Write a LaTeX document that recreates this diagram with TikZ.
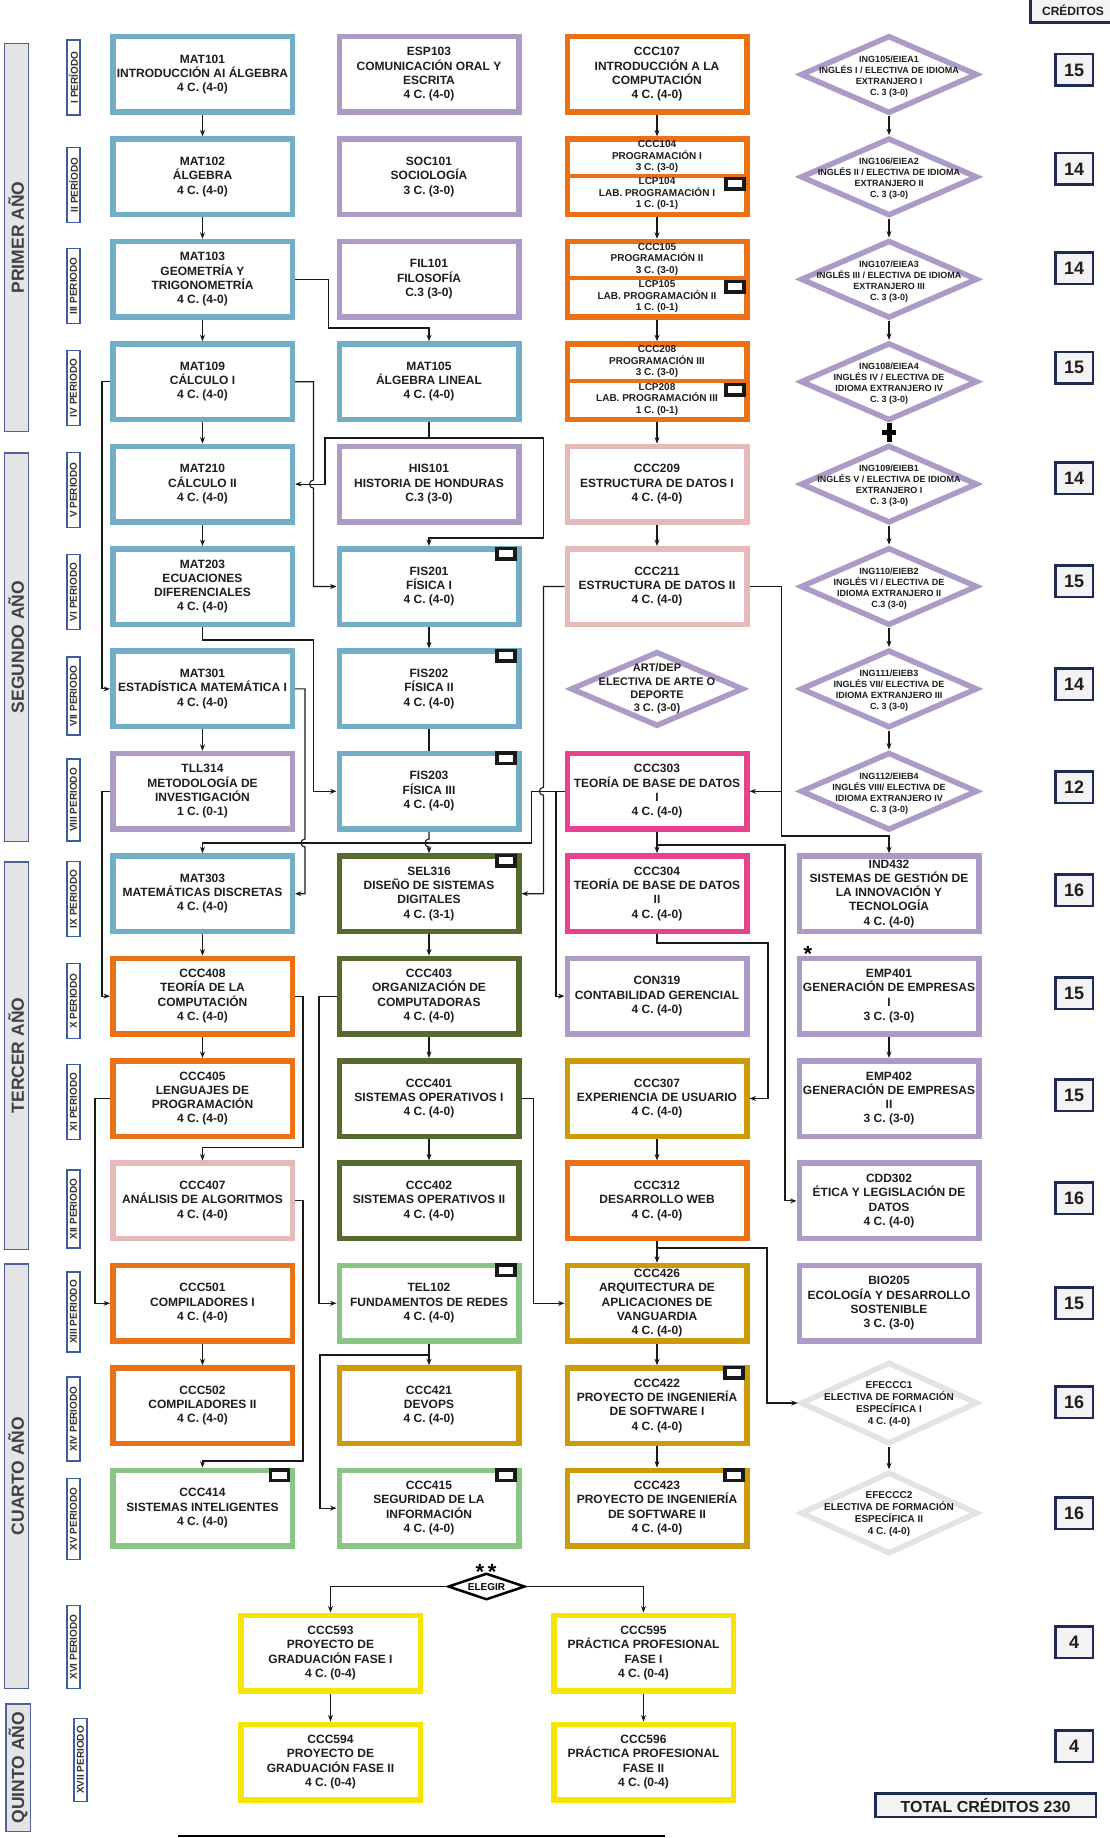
\documentclass[tikz,border=0pt]{standalone}
\usepackage{fontspec}
\setmainfont{Liberation Sans}
\usetikzlibrary{arrows.meta, shapes.geometric}

\definecolor{cblue}{HTML}{72AEC8}
\definecolor{cpurple}{HTML}{AB9BC6}
\definecolor{corange}{HTML}{EC7116}
\definecolor{cpink}{HTML}{E6B9B8}
\definecolor{cmagenta}{HTML}{E8418E}
\definecolor{colive}{HTML}{566A2E}
\definecolor{cgreen}{HTML}{8AC583}
\definecolor{cgold}{HTML}{CD9B05}
\definecolor{cyellow}{HTML}{F5E500}
\definecolor{clight}{HTML}{E3E3E3}
\definecolor{cnavy}{HTML}{1F2B55}
\definecolor{cperiod}{HTML}{3B5BA6}
\definecolor{cyearline}{HTML}{50609A}
\definecolor{cyearfill}{HTML}{E4E4E4}
\definecolor{cpanel}{HTML}{F3F3F3}
\definecolor{ctext}{HTML}{1E1E1E}

\newcommand\crsfont{\fontsize{12}{14.3}\selectfont\bfseries}
\newcommand\splitfont{\fontsize{10}{11.5}\selectfont\bfseries}
\newcommand\ingfont{\fontsize{9}{11}\selectfont\bfseries}
\newcommand\effont{\fontsize{10}{12}\selectfont\bfseries}
\newcommand\artfont{\fontsize{11}{13.3}\selectfont\bfseries}
\newcommand\credfont{\fontsize{18}{20}\selectfont\bfseries}
\newcommand\hdrfont{\fontsize{12}{14}\selectfont\bfseries}
\newcommand\totfont{\fontsize{16}{18}\selectfont\bfseries}
\newcommand\yearfont{\fontsize{17.5}{20}\selectfont\bfseries}
\newcommand\perfont{\fontsize{10}{12}\selectfont\bfseries}
\newcommand\starfont{\fontsize{22}{22}\selectfont\bfseries}

\tikzset{
  course/.style={draw, line width=5.5pt, fill=white, minimum width=179.5pt, minimum height=75.5pt, inner sep=1pt, align=center, font=\crsfont, text=ctext},
  matbox/.style={course, draw=cblue},
  genbox/.style={course, draw=cpurple},
  progbox/.style={course, draw=corange},
  datbox/.style={course, draw=cpink},
  dbbox/.style={course, draw=cmagenta},
  hwbox/.style={course, draw=colive},
  netbox/.style={course, draw=cgreen},
  swbox/.style={course, draw=cgold},
  gradbox/.style={course, draw=cyellow},
  dia/.style={diamond, draw, line width=5.5pt, fill=white, inner sep=0pt, minimum width=177pt, minimum height=78pt},
  ingdia/.style={dia, draw=cpurple},
  efdia/.style={dia, draw=clight, minimum height=82pt},
  diatext/.style={align=center, font=\ingfont, text=ctext, inner sep=0pt},
  splittext/.style={align=center, font=\splitfont, text=ctext, inner sep=0pt},
  lab/.style={draw=black!90, line width=3.5pt, fill=white, minimum width=18pt, minimum height=10.5pt, inner sep=0pt},
  period/.style={draw=cperiod, line width=1.8pt, fill=white, rotate=90, minimum height=12.5pt, minimum width=75pt, inner sep=0pt, font=\perfont, text=black!80},
  year/.style={draw=cyearline, line width=1.5pt, fill=cyearfill, rotate=90, minimum height=24pt, inner sep=0pt, font=\yearfont, text=black!75},
  credit/.style={draw=cnavy, line width=2.5pt, fill=cpanel, minimum width=37.5pt, minimum height=31.5pt, inner sep=0pt, font=\credfont, text=ctext},
  link/.style={line width=1.1pt, black!90},
  arr/.style={link, -{Stealth[length=6.5pt, width=5pt]}},
}

\begin{document}
\begin{tikzpicture}[x=1pt, y=-1pt]
\useasboundingbox (0,0) rectangle (1110,1838);
\fill[white] (0,0) rectangle (1110,1838);

\node[year, minimum width=387.5pt] (year1) at (16.25,237.5) {PRIMER AÑO};
\node[year, minimum width=388.5pt] (year2) at (16.25,647) {SEGUNDO AÑO};
\node[year, minimum width=387.5pt] (year3) at (16.25,1055.5) {TERCER AÑO};
\node[year, minimum width=424.5pt] (year4) at (16.25,1476) {CUARTO AÑO};
\node[year, minimum width=127.5pt, minimum height=24.5pt] (year5) at (18,1767.5) {QUINTO AÑO};

\node[period] (p1) at (73.5,77.5) {I PERÍODO};
\node[period] (p2) at (73.5,185) {II PERÍODO};
\node[period] (p3) at (73.5,286) {III PERIODO};
\node[period] (p4) at (73.5,388) {IV PERIODO};
\node[period] (p5) at (73.5,490) {V PERIODO};
\node[period] (p6) at (73.5,592) {VI PERIODO};
\node[period, minimum width=78pt] (p7) at (73.5,696) {VII PERIODO};
\node[period, minimum width=82pt] (p8) at (73.5,800) {VIII PERIODO};
\node[period] (p9) at (73.5,899) {IX PERIODO};
\node[period] (p10) at (73.5,1001) {X PERIODO};
\node[period] (p11) at (73.5,1102) {XI PERIODO};
\node[period, minimum width=78pt] (p12) at (73.5,1209) {XII PERIODO};
\node[period, minimum width=80pt] (p13) at (73.5,1312) {XIII PERIODO};
\node[period, minimum width=84pt] (p14) at (73.5,1419) {XIV PERIODO};
\node[period, minimum width=81pt] (p15) at (73.5,1519) {XV PERIODO};
\node[period, minimum width=83pt] (p16) at (73.5,1647) {XVI PERIODO};
\node[period, minimum width=83pt] (p17) at (80.5,1760) {XVII PERIODO};

\node[matbox] (MAT101) at (202.5,74.5) {MAT101\\INTRODUCCIÓN AI ÁLGEBRA\\4 C. (4-0)};
\node[genbox] (ESP103) at (429,74.5) {ESP103\\COMUNICACIÓN ORAL Y\\ESCRITA\\4 C. (4-0)};
\node[progbox] (CCC107) at (657,74.5) {CCC107\\INTRODUCCIÓN A LA\\COMPUTACIÓN\\4 C. (4-0)};
\node[ingdia] (ING105) at (889,74.5) {};
\node[diatext] (ING105txt) at (889,76.5) {ING105/EIEA1\\INGLÉS I / ELECTIVA DE IDIOMA\\EXTRANJERO I\\C. 3 (3-0)};

\node[matbox] (MAT102) at (202.5,176.9) {MAT102\\ÁLGEBRA\\4 C. (4-0)};
\node[genbox] (SOC101) at (429,176.9) {SOC101\\SOCIOLOGÍA\\3 C. (3-0)};
\node[progbox] (CCC104) at (657,176.9) {};
\draw[corange, line width=4pt] ([yshift=1pt]CCC104.west) -- ([yshift=1pt]CCC104.east);
\node[splittext] (CCC104txt) at (657,157) {CCC104\\PROGRAMACIÓN I\\3 C. (3-0)};
\node[splittext] (LCP104txt) at (657,194) {LCP104\\LAB. PROGRAMACIÓN I\\1 C. (0-1)};
\node[lab] (LCP104lab) at (735,184) {};
\node[ingdia] (ING106) at (889,176.9) {};
\node[diatext] (ING106txt) at (889,178.9) {ING106/EIEA2\\INGLÉS II / ELECTIVA DE IDIOMA\\EXTRANJERO II\\C. 3 (3-0)};

\node[matbox] (MAT103) at (202.5,279.3) {MAT103\\GEOMETRÍA Y\\TRIGONOMETRÍA\\4 C. (4-0)};
\node[genbox] (FIL101) at (429,279.3) {FIL101\\FILOSOFÍA\\C.3 (3-0)};
\node[progbox] (CCC105) at (657,279.3) {};
\draw[corange, line width=4pt] ([yshift=1pt]CCC105.west) -- ([yshift=1pt]CCC105.east);
\node[splittext] (CCC105txt) at (657,259.5) {CCC105\\PROGRAMACIÓN II\\3 C. (3-0)};
\node[splittext] (LCP105txt) at (657,297) {LCP105\\LAB. PROGRAMACIÓN II\\1 C. (0-1)};
\node[lab] (LCP105lab) at (735,286.5) {};
\node[ingdia] (ING107) at (889,279.3) {};
\node[diatext] (ING107txt) at (889,281.3) {ING107/EIEA3\\INGLÉS III / ELECTIVA DE IDIOMA\\EXTRANJERO III\\C. 3 (3-0)};

\node[matbox] (MAT109) at (202.5,381.7) {MAT109\\CÁLCULO I\\4 C. (4-0)};
\node[matbox] (MAT105) at (429,381.7) {MAT105\\ÁLGEBRA LINEAL\\4 C. (4-0)};
\node[progbox] (CCC208) at (657,381.7) {};
\draw[corange, line width=4pt] ([yshift=1pt]CCC208.west) -- ([yshift=1pt]CCC208.east);
\node[splittext] (CCC208txt) at (657,362) {CCC208\\PROGRAMACIÓN III\\3 C. (3-0)};
\node[splittext] (LCP208txt) at (657,399.5) {LCP208\\LAB. PROGRAMACIÓN III\\1 C. (0-1)};
\node[lab] (LCP208lab) at (735,389.5) {};
\node[ingdia] (ING108) at (889,381.7) {};
\node[diatext] (ING108txt) at (889,383.7) {ING108/EIEA4\\INGLÉS IV / ELECTIVA DE\\IDIOMA EXTRANJERO IV\\C. 3 (3-0)};

\node[matbox] (MAT210) at (202.5,484.1) {MAT210\\CÁLCULO II\\4 C. (4-0)};
\node[genbox] (HIS101) at (429,484.1) {HIS101\\HISTORIA DE HONDURAS\\C.3 (3-0)};
\node[datbox] (CCC209) at (657,484.1) {CCC209\\ESTRUCTURA DE DATOS I\\4 C. (4-0)};
\node[ingdia] (ING109) at (889,484.1) {};
\node[diatext] (ING109txt) at (889,486.1) {ING109/EIEB1\\INGLÉS V / ELECTIVA DE IDIOMA\\EXTRANJERO I\\C. 3 (3-0)};

\node[matbox] (MAT203) at (202.5,586.5) {MAT203\\ECUACIONES\\DIFERENCIALES\\4 C. (4-0)};
\node[matbox] (FIS201) at (429,586.5) {FIS201\\FÍSICA I\\4 C. (4-0)};
\node[lab] (FIS201lab) at ([xshift=-15.5pt,yshift=-7.5pt]FIS201.north east) {};
\node[datbox] (CCC211) at (657,586.5) {CCC211\\ESTRUCTURA DE DATOS II\\4 C. (4-0)};
\node[ingdia] (ING110) at (889,586.5) {};
\node[diatext] (ING110txt) at (889,588.5) {ING110/EIEB2\\INGLÉS VI / ELECTIVA DE\\IDIOMA EXTRANJERO II\\C.3 (3-0)};

\node[matbox] (MAT301) at (202.5,688.9) {MAT301\\ESTADÍSTICA MATEMÁTICA I\\4 C. (4-0)};
\node[matbox] (FIS202) at (429,688.9) {FIS202\\FÍSICA II\\4 C. (4-0)};
\node[lab] (FIS202lab) at ([xshift=-15.5pt,yshift=-7.5pt]FIS202.north east) {};
\node[dia, draw=cpurple, minimum width=173pt, minimum height=75pt] (ARTDEP) at (657,688.9) {};
\node[diatext, font=\artfont] (ARTDEPtxt) at (657,688.9) {ART/DEP\\ELECTIVA DE ARTE O\\DEPORTE\\3 C. (3-0)};
\node[ingdia] (ING111) at (889,688.9) {};
\node[diatext] (ING111txt) at (889,690.9) {ING111/EIEB3\\INGLÉS VII/ ELECTIVA DE\\IDIOMA EXTRANJERO III\\C. 3 (3-0)};

\node[genbox] (TLL314) at (202.5,791.3) {TLL314\\METODOLOGÍA DE\\INVESTIGACIÓN\\1 C. (0-1)};
\node[matbox] (FIS203) at (429,791.3) {FIS203\\FÍSICA III\\4 C. (4-0)};
\node[lab] (FIS203lab) at ([xshift=-15.5pt,yshift=-7.5pt]FIS203.north east) {};
\node[dbbox] (CCC303) at (657,791.3) {CCC303\\TEORÍA DE BASE DE DATOS\\I\\4 C. (4-0)};
\node[ingdia] (ING112) at (889,791.3) {};
\node[diatext] (ING112txt) at (889,793.3) {ING112/EIEB4\\INGLÉS VIII/ ELECTIVA DE\\IDIOMA EXTRANJERO IV\\C. 3 (3-0)};

\node[matbox] (MAT303) at (202.5,893.7) {MAT303\\MATEMÁTICAS DISCRETAS\\4 C. (4-0)};
\node[hwbox] (SEL316) at (429,893.7) {SEL316\\DISEÑO DE SISTEMAS\\DIGITALES\\4 C. (3-1)};
\node[lab] (SEL316lab) at ([xshift=-15.5pt,yshift=-7.5pt]SEL316.north east) {};
\node[dbbox] (CCC304) at (657,893.7) {CCC304\\TEORÍA DE BASE DE DATOS\\II\\4 C. (4-0)};
\node[genbox] (IND432) at (889,893.7) {IND432\\SISTEMAS DE GESTIÓN DE\\LA INNOVACIÓN Y\\TECNOLOGÍA\\4 C. (4-0)};

\node[progbox] (CCC408) at (202.5,996.1) {CCC408\\TEORÍA DE LA\\COMPUTACIÓN\\4 C. (4-0)};
\node[hwbox] (CCC403) at (429,996.1) {CCC403\\ORGANIZACIÓN DE\\COMPUTADORAS\\4 C. (4-0)};
\node[genbox] (CON319) at (657,996.1) {CON319\\CONTABILIDAD GERENCIAL\\4 C. (4-0)};
\node[genbox] (EMP401) at (889,996.1) {EMP401\\GENERACIÓN DE EMPRESAS\\I\\3 C. (3-0)};
\node[font=\starfont, anchor=base, inner sep=0pt] (star1) at (808,961.5) {*};

\node[progbox] (CCC405) at (202.5,1098.5) {CCC405\\LENGUAJES DE\\PROGRAMACIÓN\\4 C. (4-0)};
\node[hwbox] (CCC401) at (429,1098.5) {CCC401\\SISTEMAS OPERATIVOS I\\4 C. (4-0)};
\node[swbox] (CCC307) at (657,1098.5) {CCC307\\EXPERIENCIA DE USUARIO\\4 C. (4-0)};
\node[genbox] (EMP402) at (889,1098.5) {EMP402\\GENERACIÓN DE EMPRESAS\\II\\3 C. (3-0)};

\node[datbox] (CCC407) at (202.5,1200.9) {CCC407\\ANÁLISIS DE ALGORITMOS\\4 C. (4-0)};
\node[hwbox] (CCC402) at (429,1200.9) {CCC402\\SISTEMAS OPERATIVOS II\\4 C. (4-0)};
\node[progbox] (CCC312) at (657,1200.9) {CCC312\\DESARROLLO WEB\\4 C. (4-0)};
\node[genbox] (CDD302) at (889,1200.9) {CDD302\\ÉTICA Y LEGISLACIÓN DE\\DATOS\\4 C. (4-0)};

\node[progbox] (CCC501) at (202.5,1303.3) {CCC501\\COMPILADORES I\\4 C. (4-0)};
\node[netbox] (TEL102) at (429,1303.3) {TEL102\\FUNDAMENTOS DE REDES\\4 C. (4-0)};
\node[lab] (TEL102lab) at ([xshift=-15.5pt,yshift=-7.5pt]TEL102.north east) {};
\node[swbox] (CCC426) at (657,1303.3) {CCC426\\ARQUITECTURA DE\\APLICACIONES DE\\VANGUARDIA\\4 C. (4-0)};
\node[genbox] (BIO205) at (889,1303.3) {BIO205\\ECOLOGÍA Y DESARROLLO\\SOSTENIBLE\\3 C. (3-0)};

\node[progbox] (CCC502) at (202.5,1405.7) {CCC502\\COMPILADORES II\\4 C. (4-0)};
\node[swbox] (CCC421) at (429,1405.7) {CCC421\\DEVOPS\\4 C. (4-0)};
\node[swbox] (CCC422) at (657,1405.7) {CCC422\\PROYECTO DE INGENIERÍA\\DE SOFTWARE I\\4 C. (4-0)};
\node[lab] (CCC422lab) at ([xshift=-15.5pt,yshift=-7.5pt]CCC422.north east) {};
\node[efdia] (EFECCC1) at (889,1403) {};
\node[diatext, font=\effont] (EFECCC1txt) at (889,1404) {EFECCC1\\ELECTIVA DE FORMACIÓN\\ESPECÍFICA I\\4 C. (4-0)};

\node[netbox] (CCC414) at (202.5,1508.1) {CCC414\\SISTEMAS INTELIGENTES\\4 C. (4-0)};
\node[lab] (CCC414lab) at ([xshift=-15.5pt,yshift=-7.5pt]CCC414.north east) {};
\node[netbox] (CCC415) at (429,1508.1) {CCC415\\SEGURIDAD DE LA\\INFORMACIÓN\\4 C. (4-0)};
\node[lab] (CCC415lab) at ([xshift=-15.5pt,yshift=-7.5pt]CCC415.north east) {};
\node[swbox] (CCC423) at (657,1508.1) {CCC423\\PROYECTO DE INGENIERÍA\\DE SOFTWARE II\\4 C. (4-0)};
\node[lab] (CCC423lab) at ([xshift=-15.5pt,yshift=-7.5pt]CCC423.north east) {};
\node[efdia] (EFECCC2) at (889,1513) {};
\node[diatext, font=\effont] (EFECCC2txt) at (889,1514) {EFECCC2\\ELECTIVA DE FORMACIÓN\\ESPECÍFICA II\\4 C. (4-0)};

\node[diamond, draw=black, line width=2.5pt, fill=white, inner sep=0pt, minimum width=77pt, minimum height=26.5pt] (ELEGIR) at (486.5,1586.5) {};
\node[font=\effont, inner sep=0pt] (ELEGIRtxt) at (486.5,1587) {ELEGIR};
\node[font=\starfont, anchor=base, inner sep=0pt] (star2) at (486,1579.5) {*\,*};

\node[gradbox] (CCC593) at (330.5,1653) {CCC593\\PROYECTO DE\\GRADUACIÓN FASE I\\4 C. (0-4)};
\node[gradbox] (CCC595) at (643.5,1653) {CCC595\\PRÁCTICA PROFESIONAL\\FASE I\\4 C. (0-4)};
\node[gradbox] (CCC594) at (330.5,1762) {CCC594\\PROYECTO DE\\GRADUACIÓN FASE II\\4 C. (0-4)};
\node[gradbox] (CCC596) at (643.5,1762) {CCC596\\PRÁCTICA PROFESIONAL\\FASE II\\4 C. (0-4)};

\node[credit, font=\hdrfont, minimum width=85.5pt, minimum height=24.5pt] (credhdr) at (1073,10.5) {CRÉDITOS};
\node[credit] (cr1) at (1074,70) {15};
\node[credit] (cr2) at (1074,169) {14};
\node[credit] (cr3) at (1074,268) {14};
\node[credit] (cr4) at (1074,367.5) {15};
\node[credit] (cr5) at (1074,478) {14};
\node[credit] (cr6) at (1074,581) {15};
\node[credit] (cr7) at (1074,684) {14};
\node[credit] (cr8) at (1074,787) {12};
\node[credit] (cr9) at (1074,890) {16};
\node[credit] (cr10) at (1074,993) {15};
\node[credit] (cr11) at (1074,1095) {15};
\node[credit] (cr12) at (1074,1198) {16};
\node[credit] (cr13) at (1074,1303) {15};
\node[credit] (cr14) at (1074,1402) {16};
\node[credit] (cr15) at (1074,1513) {16};
\node[credit] (cr16) at (1074,1642) {4};
\node[credit] (cr17) at (1074,1746) {4};
\node[credit, font=\totfont, minimum width=220.5pt, minimum height=23.5pt] (total) at (985.5,1805) {TOTAL CRÉDITOS 230};

\draw[arr] (MAT101) -- (MAT102);
\draw[arr] (MAT102) -- (MAT103);
\draw[arr] (MAT103) -- (MAT109);
\draw[arr] (MAT109) -- (MAT210);
\draw[arr] (MAT210) -- (MAT203);
\draw[arr] (MAT301) -- (TLL314);
\draw[arr] (MAT303) -- (CCC408);
\draw[arr] (CCC408) -- (CCC405);
\draw[arr] (CCC501) -- (CCC502);
\draw[arr] (FIS201) -- (FIS202);
\draw[link] (FIS202) -- (FIS203);
\draw[arr] (SEL316) -- (CCC403);
\draw[arr] (CCC403) -- (CCC401);
\draw[arr] (CCC401) -- (CCC402);
\draw[arr] (TEL102) -- (CCC421);
\draw[arr] (CCC107) -- (CCC104);
\draw[arr] (CCC104) -- (CCC105);
\draw[arr] (CCC105) -- (CCC208);
\draw[arr] (CCC208) -- (CCC209);
\draw[arr] (CCC209) -- (CCC211);
\draw[arr] (CCC303) -- (CCC304);
\draw[arr] (CCC307) -- (CCC312);
\draw[arr] (CCC312) -- (CCC426);
\draw[arr] (CCC426) -- (CCC422);
\draw[arr] (CCC422) -- (CCC423);
\draw[arr] (ING105) -- (ING106);
\draw[arr] (ING106) -- (ING107);
\draw[arr] (ING107) -- (ING108);
\draw[line width=5pt] (ING108.south) -- (ING109.north);
\draw[line width=5pt] (882,432) -- (896,432);
\draw[arr] (ING109) -- (ING110);
\draw[arr] (ING110) -- (ING111);
\draw[arr] (ING111) -- (ING112);
\draw[arr] (EMP401) -- (EMP402);
\draw[arr] (EFECCC1) -- (EFECCC2);

\draw[arr] (MAT103.east) -| (328.5,328) -| (MAT105.north);
\draw[arr] (MAT109.west) -- (102,381.7) |- (MAT301.west);
\draw[arr] (MAT109.east) -- (313.5,381.7) -- (313.5,480.1) .. controls +(-5.3,0) and +(-5.3,0) .. (313.5,488.1) |- (FIS201.west);
\draw[arr] (MAT105.south) |- (325,438) |- (MAT210.east);
\draw[arr] (MAT105.south) |- (543.5,438) |- (429,538) -- (FIS201.north);
\draw[arr] (MAT203.south) |- (313.5,640) |- (FIS203.west);
\draw[arr] (MAT301.east) -- (305,688.9) -- (305,839) .. controls +(-5.3,0) and +(-5.3,0) .. (305,847) |- (MAT303.east);
\draw[arr] (TLL314.west) -- (102,791.3) |- (CCC408.west);
\draw[arr] (FIS203.south) -- (429,839) .. controls +(-5.3,0) and +(-5.3,0) .. (429,847) -- (SEL316.north);
\draw[arr] (CCC303.west) -- (531.5,791.3) |- (202.5,843) -- (MAT303.north);
\draw[arr] (CCC303.west) -| (556,996.1) -- (CON319.west);
\draw[arr] (CCC211.west) -- (543.5,586.5) -- (543.5,787.3) .. controls +(-5.3,0) and +(-5.3,0) .. (543.5,795.3) |- (SEL316.east);
\draw[arr] (CCC211.east) -- (781.5,586.5) |- (CCC303.east);
\draw[arr] (CCC211.east) -- (781.5,586.5) |- (889,836) -- (IND432.north);
\draw[arr] (CCC303.south) |- (785,845) |- (CDD302.west);
\draw[arr] (CCC304.south) |- (768,943) |- (CCC307.east);
\draw[arr] (CCC312.south) |- (767,1248) |- (EFECCC1.west);
\draw[arr] (CCC408.east) -- (303,996.1) |- (202.5,1147.5) -- (CCC407.north);
\draw[arr] (CCC405.west) -- (95,1098.5) |- (CCC501.west);
\draw[arr] (CCC407.east) -- (303,1200.9) |- (202.5,1461) -- (CCC414.north);
\draw[arr] (CCC403.west) -- (319,996.1) |- (TEL102.west);
\draw[arr] (CCC401.east) -- (533.5,1098.5) |- (CCC426.west);
\draw[arr] (TEL102.south) |- (320,1355) |- (CCC415.west);
\draw[arr] (ELEGIR.west) -| (CCC593.north);
\draw[arr] (ELEGIR.east) -| (CCC595.north);
\draw[arr] (CCC593) -- (CCC594);
\draw[arr] (CCC595) -- (CCC596);

\draw[line width=1.2pt] (178,1836) -- (665,1836);
\end{tikzpicture}
\end{document}
